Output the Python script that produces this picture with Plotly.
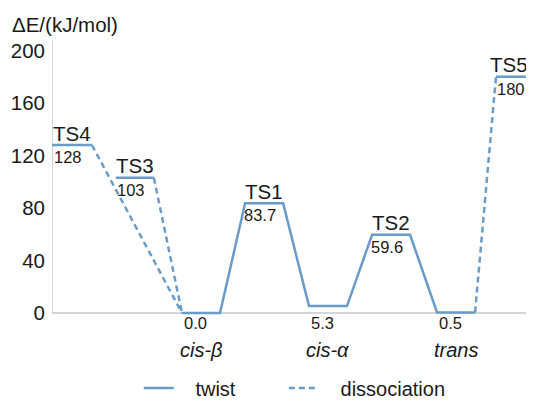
import plotly.graph_objects as go

# ---------------- data ----------------
states = ["TS4", "TS3", "cis-β", "TS1", "cis-α", "TS2", "trans", "TS5"]
energies = [128, 103, 0.0, 83.7, 5.3, 59.6, 0.5, 180]
value_labels = ["128", "103", "0.0", "83.7", "5.3", "59.6", "0.5", "180"]
is_minimum = [False, False, True, False, True, False, True, False]
level_start = [0.0, 1.68, 3.42, 5.08, 6.76, 8.42, 10.13, 11.68]
level_end = [1.05, 2.68, 4.42, 6.08, 7.76, 9.42, 11.13, 12.68]
twist_path = [2, 3, 4, 5, 6]              # cis-β → TS1 → cis-α → TS2 → trans
dissociation_links = [(0, 2), (1, 2), (6, 7)]  # TS4→cis-β, TS3→cis-β, trans→TS5
y_ticks = [0, 40, 80, 120, 160, 200]
legend_names = ["twist", "dissociation"]

BLUE = "#6a9cca"
TXT = "#1a1a1a"
FONT = "Liberation Sans, Arial, sans-serif"
PAD = "\u00a0\u00a0\u00a0"
X_MAX = 12.68

fig = go.Figure()

# twist path (solid)
tx, ty = [], []
for i in twist_path:
    tx += [level_start[i], level_end[i]]
    ty += [energies[i], energies[i]]
fig.add_trace(go.Scatter(x=tx, y=ty, mode="lines", name=PAD + legend_names[0],
                         line=dict(color=BLUE, width=2.5), legend="legend"))

# dissociation links (dashed)
dx, dy = [], []
for a, b in dissociation_links:
    if level_end[a] <= level_start[b]:
        dx += [level_end[a], level_start[b], None]
    else:
        dx += [level_start[a], level_end[b], None]
    dy += [energies[a], energies[b], None]
fig.add_trace(go.Scatter(x=dx, y=dy, mode="lines", name=PAD + legend_names[1],
                         line=dict(color=BLUE, width=2.5, dash="6px,4px"),
                         legend="legend2"))

# remaining flat levels (solid, no legend)
lx, ly = [], []
for i in range(len(states)):
    if i not in twist_path:
        lx += [level_start[i], level_end[i], None]
        ly += [energies[i], energies[i], None]
fig.add_trace(go.Scatter(x=lx, y=ly, mode="lines", showlegend=False,
                         line=dict(color=BLUE, width=2.5), hoverinfo="skip"))

ann = []
for i, s in enumerate(states):
    c = (level_start[i] + level_end[i]) / 2
    if is_minimum[i]:
        ann.append(dict(x=c - 0.15, y=0, text=value_labels[i], showarrow=False,
                        yshift=-10, font=dict(size=16.5, color=TXT)))
        ann.append(dict(x=c, y=0, text="<i>%s</i>" % s, showarrow=False,
                        yshift=-37, font=dict(size=20, color=TXT)))
    else:
        at_edge = level_end[i] >= X_MAX
        ann.append(dict(x=level_start[i] if at_edge else c, y=energies[i], text=s,
                        xanchor="left" if at_edge else "center", xshift=-8 if at_edge else 0,
                        showarrow=False, yshift=12, font=dict(size=20.5, color=TXT)))
        ann.append(dict(x=c - 0.1, y=energies[i], text=value_labels[i], showarrow=False,
                        yshift=-12, font=dict(size=16.5, color=TXT)))

ann.append(dict(xref="paper", yref="paper", x=-0.087, y=1.056, xanchor="left",
                yanchor="middle", text="ΔE/(kJ/mol)", showarrow=False,
                font=dict(size=20.5, color=TXT)))

leg_common = dict(orientation="h", y=-0.256, yanchor="middle", xanchor="left",
                  font=dict(size=20, color=TXT), itemwidth=30,
                  bgcolor="rgba(0,0,0,0)")

fig.update_layout(
    width=526, height=393,
    margin=dict(l=44, r=0, t=32, b=84, autoexpand=False),
    paper_bgcolor="white", plot_bgcolor="white",
    font=dict(family=FONT, size=20, color=TXT),
    xaxis=dict(range=[0, X_MAX], visible=False, showgrid=False, zeroline=False),
    yaxis=dict(range=[-3, 208], tickvals=y_ticks, ticks="", showgrid=False,
               zeroline=False, showline=False, ticklabelstandoff=6, automargin=False,
               tickfont=dict(size=20.5, color=TXT)),
    shapes=[
        dict(type="line", xref="x", yref="y", x0=0, x1=0, y0=0, y1=208,
             line=dict(color="#c8c8c8", width=1.5), layer="below"),
        dict(type="line", xref="paper", yref="y", x0=0, x1=1, y0=0, y1=0,
             line=dict(color="#c8c8c8", width=1.5), layer="below"),
    ],
    annotations=ann,
    legend=dict(x=0.18, **leg_common),
    legend2=dict(x=0.481, **leg_common),
    showlegend=True,
)

fig.write_html("out.html")
